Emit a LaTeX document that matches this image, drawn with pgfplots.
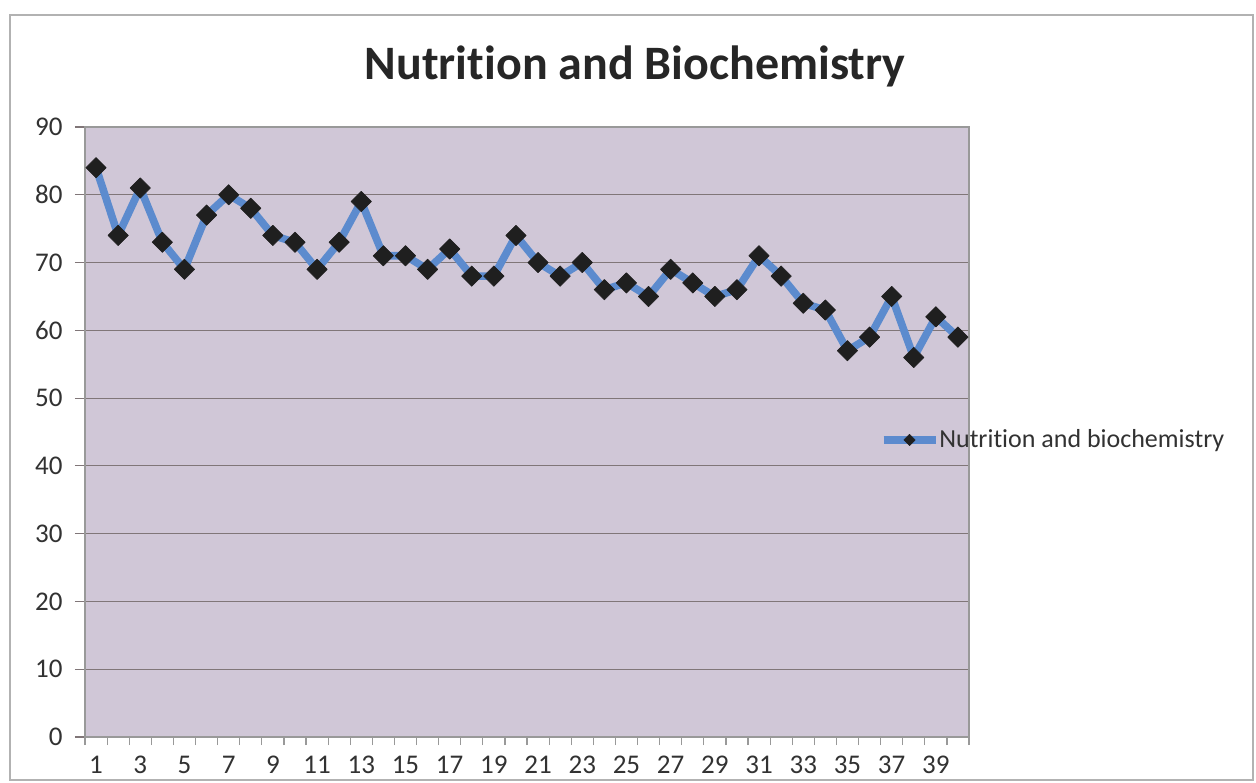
\documentclass[border=0pt]{standalone}
\usepackage{pgfplots}
\pgfplotsset{compat=1.18}
\usepackage{fontspec}
\setmainfont{Carlito}[Ligatures={NoCommon}]
\definecolor{plotbg}{RGB}{208,199,215}
\definecolor{serblue}{RGB}{92,139,206}
\definecolor{gridc}{RGB}{128,118,120}
\definecolor{txt}{RGB}{50,50,50}
\begin{document}
\begin{tikzpicture}
\path[use as bounding box] (0,0) rectangle (628pt,391pt);
\fill[white] (0,0) rectangle (628pt,391pt);
\draw[line width=0.9pt, color=black!30] (5pt,1pt) rectangle (626.5pt,383.5pt);
\node[anchor=base, font=\bfseries\fontsize{24}{28}\selectfont, text=black!85] at (317.5pt,351.4pt) {Nutrition and Biochemistry};
\begin{axis}[
  at={(42.5pt,22.5pt)}, anchor=south west,
  scale only axis, width=442pt, height=305pt,
  xmin=0.5, xmax=40.5, ymin=0, ymax=90,
  axis background/.style={fill=plotbg},
  axis line style={draw=black!40, line width=0.6pt},
  xtick pos=bottom, ytick pos=left,
  xtick={1,3,...,39},
  minor xtick={0.5,1.5,...,40.5},
  ytick={0,10,...,90},
  tick align=outside,
  major tick length=5pt,
  minor tick length=4pt,
  x tick style={draw=none},
  minor x tick style={draw=black!40, line width=0.6pt},
  y tick style={draw=gridc, line width=0.6pt},
  ymajorgrids,
  major grid style={draw=gridc, line width=0.6pt},
  /pgf/number format/assume math mode=true,
  tick label style={font=\fontsize{13.5}{15}\selectfont, text=txt},
  yticklabel style={inner sep=0pt, xshift=-6pt},
  xticklabel style={inner sep=0pt, yshift=-4.5pt},
  legend style={at={(0.899,0.487)}, anchor=west, draw=none, fill=none, inner sep=0pt, outer sep=0pt,
     font=\fontsize{13}{15}\selectfont, text=txt,
     nodes={inner sep=0pt},
     /tikz/every even column/.append style={column sep=0pt}},
  legend cell align=left,
  legend image code/.code={\draw[#1, mark repeat=2, mark phase=2, mark size=2.0pt] plot coordinates {(0pt,0pt) (13pt,0pt) (26pt,0pt)};},
  clip=false,
]
\addplot[color=serblue, line width=3.8pt, mark=square*, mark size=3.6pt,
  mark options={fill=black!88, draw=black!88, line width=0.3pt, rotate=45}, line join=round]
  coordinates {
  (1,84) (2,74) (3,81) (4,73) (5,69) (6,77) (7,80) (8,78) (9,74) (10,73)
  (11,69) (12,73) (13,79) (14,71) (15,71) (16,69) (17,72) (18,68) (19,68) (20,74)
  (21,70) (22,68) (23,70) (24,66) (25,67) (26,65) (27,69) (28,67) (29,65) (30,66)
  (31,71) (32,68) (33,64) (34,63) (35,57) (36,59) (37,65) (38,56) (39,62) (40,59)
  };
\addlegendentry{Nutrition and biochemistry}
\end{axis}
\end{tikzpicture}
\end{document}
